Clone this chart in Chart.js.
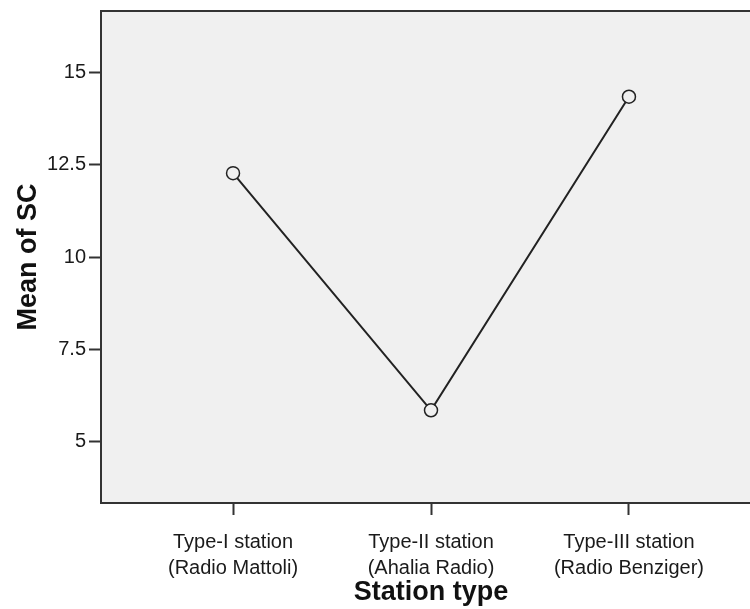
<!DOCTYPE html>
<html>
<head>
<meta charset="utf-8">
<script src="https://cdn.jsdelivr.net/npm/chart.js@4"></script>
<style>
  html, body { margin: 0; padding: 0; background: #fff; overflow: hidden; }
</style>
</head>
<body>
<canvas id="meanChart" width="762" height="609"></canvas>
<script>
const stationTypes = [
  ['Type-I station', '(Radio Mattoli)'],
  ['Type-II station', '(Ahalia Radio)'],
  ['Type-III station', '(Radio Benziger)']
]
const meanSC = [12.27, 5.85, 14.34]
const yTickValues = [5, 7.5, 10, 12.5, 15]

const fontName = "'Liberation Sans', Arial, sans-serif"

// plot box background + top/right edges (left/bottom come from the axes)
const plotFrame = {
  id: 'plotFrame',
  beforeDraw(chart) {
    const a = chart.chartArea
    const ctx = chart.ctx
    ctx.save()
    ctx.fillStyle = '#f0f0f0'
    ctx.fillRect(a.left, a.top, a.right - a.left, a.bottom - a.top)
    ctx.restore()
  },
  afterDraw(chart) {
    const a = chart.chartArea
    const ctx = chart.ctx
    ctx.save()
    ctx.strokeStyle = '#333'
    ctx.lineWidth = 2
    ctx.beginPath()
    ctx.moveTo(a.left, a.top)
    ctx.lineTo(a.right, a.top)
    ctx.lineTo(a.right, a.bottom)
    ctx.stroke()
    ctx.restore()
  }
}

let points = []
for (let i = 0; i < meanSC.length; i++) {
  points.push({x: i, y: meanSC[i]})
}

new Chart(document.getElementById('meanChart').getContext('2d'), {
  type: 'line',
  data: {
    datasets: [{
      data: points,
      borderColor: '#222',
      borderWidth: 2,
      pointRadius: 6.5,
      pointHoverRadius: 6.5,
      pointBorderWidth: 1.5,
      pointBorderColor: '#222',
      pointBackgroundColor: '#f0f0f0',
      tension: 0
    }]
  },
  plugins: [plotFrame],
  options: {
    responsive: false,
    animation: false,
    layout: { autoPadding: false, padding: { top: 11, right: 1, left: 0, bottom: 0 } },
    plugins: { legend: { display: false }, tooltip: { enabled: false } },
    scales: {
      x: {
        type: 'linear',
        min: -0.667,
        max: 2.667,
        afterBuildTicks(scale) {
          scale.ticks = stationTypes.map((s, i) => ({value: i}))
        },
        afterFit(scale) { scale.height = 106 },
        grid: { drawOnChartArea: false, color: '#333', tickLength: 12, tickWidth: 2 },
        border: { display: true, color: '#333', width: 2 },
        ticks: {
          autoSkip: false,
          maxRotation: 0,
          padding: 14,
          color: '#1a1a1a',
          font: { family: fontName, size: 20, lineHeight: 1.3 },
          callback: (v) => stationTypes[v]
        },
        title: {
          display: true,
          text: 'Station type',
          color: '#111',
          font: { family: fontName, size: 27, weight: 'bold', lineHeight: 1.2 },
          padding: { top: 0, bottom: 0 }
        }
      },
      y: {
        min: 3.34,
        max: 16.66,
        afterBuildTicks(scale) {
          scale.ticks = yTickValues.map(v => ({value: v}))
        },
        afterFit(scale) {
          scale.width = 101
          scale.paddingTop = 0
          scale.paddingBottom = 0
        },
        grid: { drawOnChartArea: false, color: '#333', tickLength: 12, tickWidth: 2 },
        border: { display: true, color: '#333', width: 2 },
        ticks: {
          padding: 3,
          color: '#1a1a1a',
          font: { family: fontName, size: 20 },
          callback: (v) => String(v)
        },
        title: {
          display: true,
          text: 'Mean of SC',
          color: '#111',
          font: { family: fontName, size: 27, weight: 'bold', lineHeight: 1.2 },
          padding: { top: 12, bottom: 0 }
        }
      }
    }
  }
})
</script>
</body>
</html>
